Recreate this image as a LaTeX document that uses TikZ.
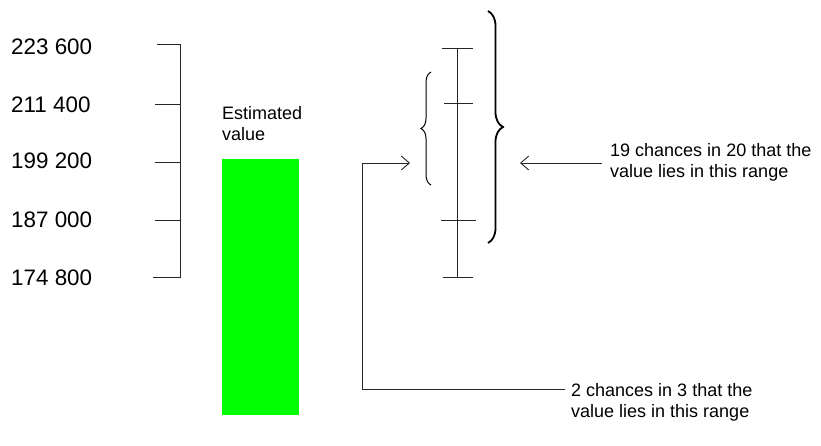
\documentclass[tikz,border=0pt]{standalone}
\usepackage{fontspec}
\setmainfont{Liberation Sans}
\usetikzlibrary{arrows.meta,decorations.pathreplacing}
\definecolor{barGreen}{RGB}{0,255,0}
\tikzset{
  scalelabel/.style={anchor=base west,inner sep=0pt,font=\fontsize{22.4}{26}\selectfont},
  note/.style={anchor=north west,inner sep=0pt,align=left,font=\fontsize{18}{21}\selectfont},
  thin line/.style={line width=0.9pt,draw=black!85},
  openarrow/.style={thin line,-{Straight Barb[length=8pt,width=14pt]}},
  bracebig/.style={line width=1.8pt,decorate,decoration={brace,amplitude=15pt}},
  bracesmall/.style={line width=1pt,decorate,decoration={brace,amplitude=10pt}}
}
\begin{document}
\begin{tikzpicture}[x=1pt,y=-1pt]
\useasboundingbox (0,0) rectangle (821,445);

% value scale on the left
\node[scalelabel] (v1) at (11,54)  {223 600};
\node[scalelabel] (v2) at (11,112) {211 400};
\node[scalelabel] (v3) at (11,168) {199 200};
\node[scalelabel] (v4) at (11,227) {187 000};
\node[scalelabel] (v5) at (11,285) {174 800};
\draw[thin line] (157,44) -- (180,44) -- (180,277) -- (153,277);
\draw[thin line] (155,104) -- (180,104);
\draw[thin line] (155,162) -- (180,162);
\draw[thin line] (155,220) -- (180,220);

% estimated value bar
\fill[barGreen] (222,159) rectangle (299,415);
\node[note] (est) at (222,106) {Estimated\\value};

% confidence interval bar
\coordinate (ciTop) at (457,48);
\coordinate (ciBot) at (457,277);
\draw[thin line] (ciTop) -- (ciBot);
\draw[thin line] (442,48)  -- (473,48);
\draw[thin line] (444,103) -- (473,103);
\draw[thin line] (441,220) -- (476,220);
\draw[thin line] (443,277) -- (473,277);

% braces
\draw[bracesmall] (431,185) -- (431,72);
\draw[bracebig] (488,11) -- (488,243);

% labels and pointers
\node[note] (big) at (610,143) {19 chances in 20 that the\\value lies in this range};
\node[note] (small) at (571,383) {2 chances in 3 that the\\value lies in this range};
\coordinate (bigTip) at (520,163);
\coordinate (smallTip) at (410,163);
\coordinate (corner) at (362,389);
\draw[openarrow] (602,163) -- (bigTip);
\draw[openarrow] (565,389) -- (corner) |- (smallTip);
\end{tikzpicture}
\end{document}
